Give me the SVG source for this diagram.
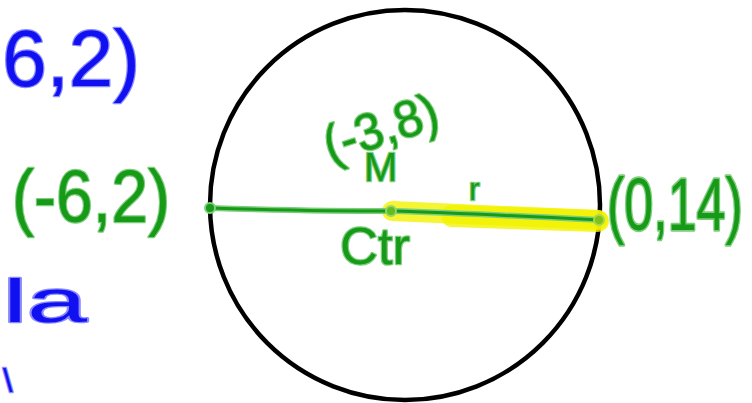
<svg xmlns="http://www.w3.org/2000/svg" width="752" height="403" viewBox="0 0 752 403">
<defs>
<style>
.g{font-family:"Liberation Sans","DejaVu Sans",sans-serif;fill:#179a17;stroke:#7ccd7c;stroke-width:2.5;paint-order:stroke;stroke-linejoin:round}
.b{font-family:"Liberation Sans","DejaVu Sans",sans-serif;fill:#1010f0;stroke:#8a8aff;stroke-width:2.5;paint-order:stroke;stroke-linejoin:round}
.hl{fill:none;stroke:#f2f200;stroke-opacity:0.8;stroke-linecap:round}
</style>
</defs>
<rect width="752" height="403" fill="#ffffff"/>
<g id="circle">
<circle cx="405" cy="205" r="195" fill="none" stroke="#000" stroke-width="4.5"/>
</g>
<g id="connectors">
<path class="hl" d="M392,211 L598,220" stroke-width="20"/>
<path class="hl" d="M452,216 L598,221" stroke-width="22"/>
<path d="M210,208 C280,210 330,211 392,211 C460,213 540,217 600,220" fill="none" stroke="#7ccd7c" stroke-width="6" stroke-linecap="round"/>
<path d="M210,208 C280,210 330,211 392,211 C460,213 540,217 600,220" fill="none" stroke="#179a17" stroke-width="3" stroke-linecap="round"/>
<circle cx="210" cy="208" r="5" fill="#179a17" stroke="#7ccd7c" stroke-width="2"/>
<circle cx="391" cy="211" r="5" fill="#5fbf1f" stroke="#9ad36a" stroke-width="2"/>
<circle cx="599" cy="220" r="5" fill="#7fc21a" stroke="#a8d84a" stroke-width="2"/>
</g>
<g id="blue-top"><text class="b" x="140" y="86" font-size="80" text-anchor="end">6,2)</text></g>
<g id="blue-la"><text class="b" x="3" y="322" font-size="62" textLength="84" lengthAdjust="spacingAndGlyphs">la</text></g>
<g id="blue-bottom"><text class="b" x="3" y="392" font-size="34">\</text></g>
<g id="left-point"><text class="g" x="12" y="222" font-size="74" textLength="158" lengthAdjust="spacingAndGlyphs">(-6,2)</text></g>
<g id="midpoint"><text class="g" x="330" y="163" font-size="52" textLength="118" lengthAdjust="spacingAndGlyphs" transform="rotate(-18 330 163)">(-3,8)</text>
<text class="g" x="364" y="181" font-size="40">M</text></g>
<g id="center-label"><text class="g" x="340" y="264" font-size="52" textLength="70" lengthAdjust="spacingAndGlyphs">Ctr</text></g>
<g id="radius-label"><text class="g" x="469" y="200" font-size="32">r</text></g>
<g id="right-point"><text class="g" x="0" y="0" font-size="52" transform="translate(607,230) scale(1,1.42)">(0,14)</text></g>
</svg>
